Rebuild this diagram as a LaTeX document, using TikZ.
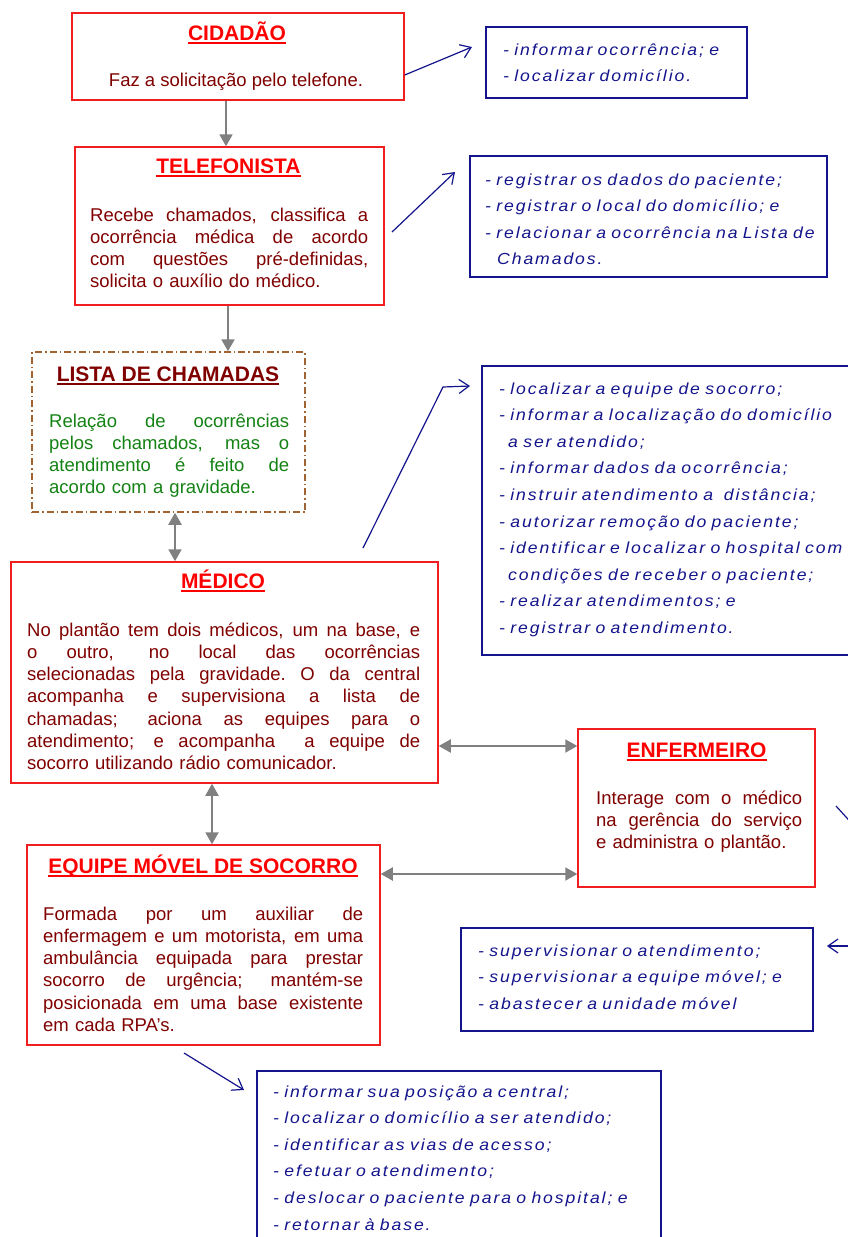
\documentclass[tikz,border=0pt]{standalone}
\usepackage{fontspec}
\setmainfont{Liberation Sans}
\newfontfamily\bluefam[LetterSpace=12,FakeStretch=1.1]{Liberation Sans}
\usetikzlibrary{arrows.meta}
\definecolor{boxred}{RGB}{240,30,30}
\definecolor{ttlred}{RGB}{255,0,0}
\definecolor{txtred}{RGB}{128,0,0}
\definecolor{navy}{RGB}{20,20,140}
\definecolor{brownb}{RGB}{160,100,50}
\definecolor{grn}{RGB}{20,130,20}
\definecolor{arrgray}{RGB}{128,128,128}
\newcommand\rbody{\fontsize{18.5}{22.3}\selectfont}
\newcommand\rtitle{\fontsize{21}{25}\selectfont\bfseries}
\newcommand\rblue{\bluefam\itshape\fontsize{16}{26.6}\selectfont}
\newcommand\ttlul[1]{\begingroup\setbox0=\hbox{#1}\rlap{\rule[-3.5pt]{\wd0}{1.4pt}}\box0\endgroup}
\newcommand\jl[2]{\leavevmode\hbox to #1{\spaceskip=0.278em plus 1fil\xspaceskip=\spaceskip #2}}
\begin{document}
\begin{tikzpicture}[x=1pt,y=-1pt,
 redbox/.style={draw=boxred, line width=1.5pt, inner sep=0pt},
 bluebox/.style={draw=navy, line width=1.5pt, inner sep=0pt},
 listbox/.style={draw=brownb, line width=1.5pt, dash pattern=on 7pt off 3pt on 1.5pt off 3pt, inner sep=0pt},
 ttl/.style={font=\rtitle, text=ttlred, anchor=base, inner sep=0pt},
 body/.style={font=\rbody, text=txtred, anchor=base west, inner sep=0pt, align=left},
 btxt/.style={font=\rblue, text=navy, anchor=base west, inner sep=0pt, align=left, text width=400pt},
 garrow/.style={draw=arrgray, line width=2pt, -{Triangle[length=12pt,width=13pt]}},
 gdarrow/.style={draw=arrgray, line width=2pt, {Triangle[length=12pt,width=13pt]}-{Triangle[length=12pt,width=13pt]}},
 barrow/.style={draw=navy, line width=1.2pt, -{Straight Barb[length=10pt,width=14pt]}},
 bline/.style={draw=navy, line width=1.2pt},
]
\fill[white] (0,0) rectangle (848,1237);
\useasboundingbox (0,0) rectangle (848,1237);

% boxes
\node[redbox, minimum width=332pt, minimum height=87pt] (cid) at (238,56.5) {};
\node[bluebox, minimum width=261pt, minimum height=71pt] (b1) at (616.5,62.5) {};
\node[redbox, minimum width=309pt, minimum height=158pt] (tel) at (229.5,226) {};
\node[bluebox, minimum width=357pt, minimum height=121pt] (b2) at (648.5,216.5) {};
\node[listbox, minimum width=273pt, minimum height=160pt] (lis) at (168.5,432) {};
\node[bluebox, minimum width=370pt, minimum height=289pt] (b3) at (667,510.5) {};
\node[redbox, minimum width=427pt, minimum height=221pt] (med) at (224.5,672.5) {};
\node[redbox, minimum width=237pt, minimum height=158pt] (enf) at (696.5,808) {};
\node[redbox, minimum width=353pt, minimum height=200pt] (equ) at (203.5,945) {};
\node[bluebox, minimum width=352pt, minimum height=103pt] (b4) at (637,979.5) {};
\node[bluebox, minimum width=404pt, minimum height=171pt] (b5) at (459,1156.5) {};

% titles
\node[ttl] (cidt) at (237,40) {\ttlul{CIDADÃO}};
\node[ttl] (telt) at (228.5,173) {\ttlul{TELEFONISTA}};
\node[ttl, text=txtred] (list) at (168,381) {\ttlul{LISTA DE CHAMADAS}};
\node[ttl] (medt) at (223,588) {\ttlul{MÉDICO}};
\node[ttl] (enft) at (696.5,757) {\ttlul{ENFERMEIRO}};
\node[ttl] (equt) at (203,873) {\ttlul{EQUIPE MÓVEL DE SOCORRO}};

% body texts
\node[body, anchor=base] (cidb) at (236,86) {Faz a solicitação pelo telefone.};
\node[body, text width=278pt] (telb) at (90,221) {\jl{278pt}{Recebe chamados, classifica a}\\\jl{278pt}{ocorrência médica de acordo}\\\jl{278pt}{com questões pré-definidas,}\\solicita o auxílio do médico.};
\node[body, text=grn, text width=240pt] (lisb) at (49,427) {\jl{240pt}{Relação de ocorrências}\\\jl{240pt}{pelos chamados, mas o}\\\jl{240pt}{atendimento é feito de}\\acordo com a gravidade.};
\node[body, text width=393pt] (medb) at (27,636) {\jl{393pt}{No plantão tem dois médicos, um na base, e}\\\jl{393pt}{o outro, no local das ocorrências}\\\jl{393pt}{selecionadas pela gravidade. O da central}\\\jl{393pt}{acompanha e supervisiona a lista de}\\\jl{393pt}{chamadas; aciona as equipes para o}\\\jl{393pt}{atendimento; e acompanha \ a equipe de}\\socorro utilizando rádio comunicador.};
\node[body, text width=206pt] (enfb) at (596,804) {\jl{206pt}{Interage com o médico}\\\jl{206pt}{na gerência do serviço}\\e administra o plantão.};
\node[body, text width=320pt] (equb) at (43,920) {\jl{320pt}{Formada por um auxiliar de}\\\jl{320pt}{enfermagem e um motorista, em uma}\\\jl{320pt}{ambulância equipada para prestar}\\\jl{320pt}{socorro de urgência; mantém-se}\\\jl{320pt}{posicionada em uma base existente}\\em cada RPA's.};

% blue texts
\node[btxt] (b1t) at (503,55) {- informar ocorrência; e\\- localizar domicílio.};
\node[btxt] (b2t) at (485,185) {- registrar os dados do paciente;\\- registrar o local do domicílio; e\\- relacionar a ocorrência na Lista de\\\hspace*{12pt}Chamados.};
\node[btxt] (b3t) at (499,394) {- localizar a equipe de socorro;\\- informar a localização do domicílio\\\hspace*{9pt}a ser atendido;\\- informar dados da ocorrência;\\- instruir atendimento a\ \ distância;\\- autorizar remoção do paciente;\\- identificar e localizar o hospital com\\\hspace*{9pt}condições de receber o paciente;\\- realizar atendimentos; e\\- registrar o atendimento.};
\node[btxt] (b4t) at (478,956) {- supervisionar o atendimento;\\- supervisionar a equipe móvel; e\\- abastecer a unidade móvel};
\node[btxt] (b5t) at (273,1097) {- informar sua posição a central;\\- localizar o domicílio a ser atendido;\\- identificar as vias de acesso;\\- efetuar o atendimento;\\- deslocar o paciente para o hospital; e\\- retornar à base.};

% gray connectors
\draw[garrow] (cid.south -| 226,0) -- (tel.north -| 226,0);
\draw[garrow] (tel.south -| 228,0) -- (lis.north -| 228,0);
\draw[gdarrow] (lis.south -| 175,0) -- (med.north -| 175,0);
\draw[gdarrow] (med.east |- 0,746) -- (enf.west |- 0,746);
\draw[gdarrow] (med.south -| 212,0) -- (equ.north -| 212,0);
\draw[gdarrow] (equ.east |- 0,874) -- (enf.west |- 0,874);

% blue connectors
\coordinate (c1e) at (472,47);
\coordinate (c2s) at (392,232);
\coordinate (c2e) at (455,172);
\coordinate (c3s) at (363,548);
\coordinate (c3m) at (443,387);
\coordinate (c3e) at (470,386);
\coordinate (c4s) at (184,1053);
\coordinate (c4e) at (244,1090);
\coordinate (c5s) at (836,806);
\coordinate (c5e) at (856,828);
\coordinate (c6s) at (856,946);
\coordinate (c6e) at (827,946);
\draw[barrow] (cid.east |- 0,75) -- (c1e);
\draw[barrow] (c2s) -- (c2e);
\draw[barrow] (c3s) -- (c3m) -- (c3e);
\draw[barrow] (c4s) -- (c4e);
\draw[bline] (c5s) -- (c5e);
\draw[barrow] (c6s) -- (c6e);
\end{tikzpicture}
\end{document}
